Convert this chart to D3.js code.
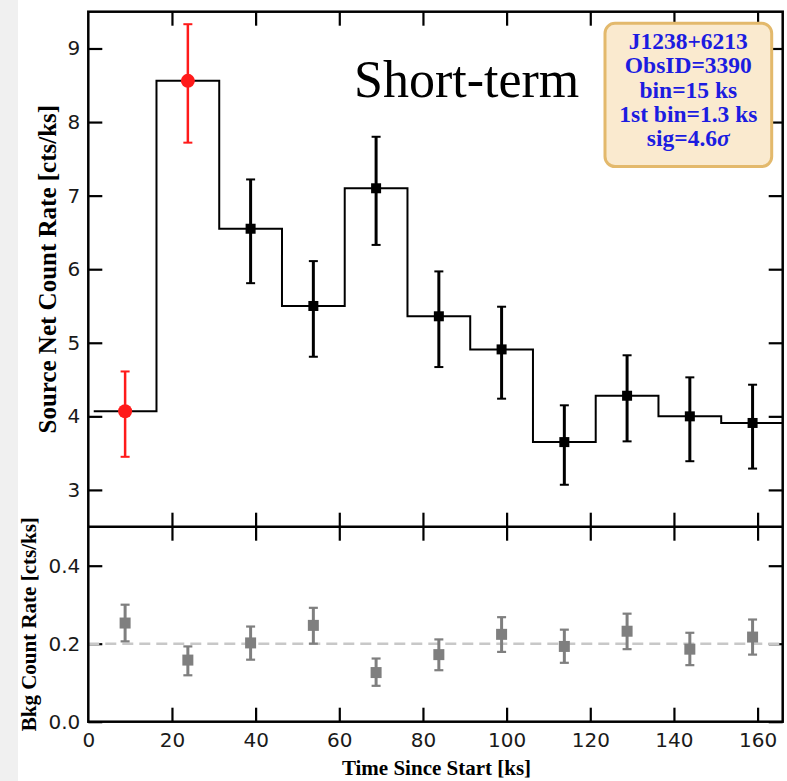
<!DOCTYPE html>
<html>
<head>
    <meta charset="utf-8" />
    <title>J1238+6213 light curve</title>
    <script src="https://cdn.jsdelivr.net/npm/d3@7"></script>
    <style>
        body { margin: 0; background: #fff; }
        svg { display: block; }
    </style>
</head>
<body>
    <script>

        // bins: 15 ks wide, first one starts at 1.3 ks
        let binEdges = [1.3, 16.3, 31.3, 46.3, 61.3, 76.3, 91.3, 106.3, 121.3, 136.3, 151.3, 166.3]
        let binCenters = [8.8, 23.8, 38.8, 53.8, 68.8, 83.8, 98.8, 113.8, 128.8, 143.8, 158.8]

        // source net count rate [cts/ks]
        let srcRate = [4.07, 8.56, 6.55, 5.50, 7.10, 5.36, 4.91, 3.65, 4.28, 4.00, 3.91]
        let srcHigh = [4.61, 9.33, 7.22, 6.11, 7.80, 5.97, 5.49, 4.15, 4.83, 4.53, 4.43]
        let srcLow  = [3.45, 7.72, 5.81, 4.81, 6.33, 4.67, 4.24, 3.07, 3.66, 3.39, 3.29]
        let flaredBins = [0, 1]

        // background count rate [cts/ks]
        let bkgRate = [0.253, 0.158, 0.202, 0.247, 0.126, 0.172, 0.224, 0.193, 0.232, 0.186, 0.217]
        let bkgHigh = [0.300, 0.193, 0.244, 0.292, 0.162, 0.211, 0.268, 0.236, 0.277, 0.228, 0.262]
        let bkgLow  = [0.206, 0.119, 0.159, 0.200, 0.092, 0.132, 0.179, 0.151, 0.186, 0.145, 0.172]
        let bkgMean = 0.2

        let xTicks = [0, 20, 40, 60, 80, 100, 120, 140, 160]
        let srcTicks = [3, 4, 5, 6, 7, 8, 9]
        let bkgTicks = [0.0, 0.2, 0.4]

        let infoLines = ['J1238+6213', 'ObsID=3390', 'bin=15 ks', '1st bin=1.3 ks']

        let W = 787, H = 781,
            left = 88.3, right = 782.7,
            topY = 11.7, midY = 526.7, botY = 721.7,
            tickLen = 14

        let svg = d3.select('body').append('svg')
            .attr('width', W)
            .attr('height', H)

        svg.append('rect')
            .attr('x', 0).attr('y', 0)
            .attr('width', 18).attr('height', H)
            .attr('fill', '#f0f0f0')

        let x = d3.scaleLinear().domain([0, 166]).range([left, right])
        let ySrc = d3.scaleLinear().domain([2.5, 9.5]).range([midY, topY])
        let yBkg = d3.scaleLinear().domain([0, 0.5]).range([botY, midY])

        svg.append('clipPath').attr('id', 'clipTop')
            .append('rect')
            .attr('x', left).attr('y', topY)
            .attr('width', right - left).attr('height', midY - topY)

        // ---- ticks ----
        function tickAxis(axis, transform, labels) {
            let g = svg.append('g')
                .attr('transform', transform)
                .call(axis.tickSizeInner(-tickLen).tickSizeOuter(0).tickPadding(8)
                    .tickFormat(labels ? labels : ''))
            g.select('.domain').remove()
            g.selectAll('line').attr('stroke', '#000').attr('stroke-width', 2.2)
            g.selectAll('text')
                .attr('fill', '#1a1a1a')
                .style('font-family', 'DejaVu Sans, sans-serif')
                .style('font-size', '20px')
            return g
        }

        let xInner = xTicks.filter(function (d) { return d > 0 })

        // top panel
        tickAxis(d3.axisLeft(ySrc).tickValues(srcTicks), `translate(${left},0)`, d3.format('d'))
        tickAxis(d3.axisRight(ySrc).tickValues(srcTicks), `translate(${right},0)`)
        tickAxis(d3.axisTop(x).tickValues(xInner), `translate(0,${topY})`)
        tickAxis(d3.axisBottom(x).tickValues(xInner), `translate(0,${midY})`)
            .selectAll('line').attr('y2', -tickLen)

        // bottom panel
        tickAxis(d3.axisLeft(yBkg).tickValues(bkgTicks), `translate(${left},0)`, d3.format('.1f'))
        tickAxis(d3.axisRight(yBkg).tickValues(bkgTicks), `translate(${right},0)`)
        tickAxis(d3.axisTop(x).tickValues(xInner), `translate(0,${midY})`)
            .selectAll('line').attr('y2', tickLen)
        let xb = tickAxis(d3.axisBottom(x).tickValues(xTicks), `translate(0,${botY})`, d3.format('d'))
        xb.selectAll('.tick').filter(function (d) { return d === 0 }).select('line').remove()
        xb.selectAll('text').attr('dy', '0.85em')

        // ---- top panel: step line and error bars ----
        let steps = binCenters.map(function (c, i) { return { t: binEdges[i], v: srcRate[i] } })
        steps.push({ t: binEdges[binEdges.length - 1], v: srcRate[srcRate.length - 1] })

        let stepLine = d3.line()
            .x(function (d) { return x(d.t) })
            .y(function (d) { return ySrc(d.v) })
            .curve(d3.curveStepAfter)

        svg.append('path')
            .datum(steps)
            .attr('clip-path', 'url(#clipTop)')
            .attr('d', stepLine)
            .attr('fill', 'none')
            .attr('stroke', '#000')
            .attr('stroke-width', 2)

        let src = binCenters.map(function (c, i) {
            return { t: c, v: srcRate[i], hi: srcHigh[i], lo: srcLow[i], flare: flaredBins.indexOf(i) >= 0 }
        })

        let srcG = svg.append('g').selectAll('g')
            .data(src)
            .enter().append('g')
            .attr('stroke', function (d) { return d.flare ? '#ff1a1a' : '#000' })
            .attr('fill', function (d) { return d.flare ? '#ff1a1a' : '#000' })

        srcG.append('line')
            .attr('x1', function (d) { return x(d.t) }).attr('x2', function (d) { return x(d.t) })
            .attr('y1', function (d) { return ySrc(d.lo) }).attr('y2', function (d) { return ySrc(d.hi) })
            .attr('stroke-width', function (d) { return d.flare ? 2.5 : 3 })
        srcG.selectAll('line.cap')
            .data(function (d) { return [{ t: d.t, v: d.lo }, { t: d.t, v: d.hi }] })
            .enter().append('line')
            .classed('cap', true)
            .attr('x1', function (d) { return x(d.t) - 4.5 }).attr('x2', function (d) { return x(d.t) + 4.5 })
            .attr('y1', function (d) { return ySrc(d.v) }).attr('y2', function (d) { return ySrc(d.v) })
            .attr('stroke-width', 2)

        srcG.filter(function (d) { return d.flare })
            .append('circle')
            .attr('cx', function (d) { return x(d.t) })
            .attr('cy', function (d) { return ySrc(d.v) })
            .attr('r', 7)
            .attr('stroke', 'none')
        srcG.filter(function (d) { return !d.flare })
            .append('rect')
            .attr('x', function (d) { return x(d.t) - 5 })
            .attr('y', function (d) { return ySrc(d.v) - 5 })
            .attr('width', 10).attr('height', 10)
            .attr('stroke', 'none')

        // ---- bottom panel: background ----
        svg.append('line')
            .attr('x1', left).attr('x2', right)
            .attr('y1', yBkg(bkgMean)).attr('y2', yBkg(bkgMean))
            .attr('stroke', '#c8c8c8')
            .attr('stroke-width', 2.5)
            .attr('stroke-dasharray', '11,6')

        let bkg = binCenters.map(function (c, i) {
            return { t: c, v: bkgRate[i], hi: bkgHigh[i], lo: bkgLow[i] }
        })

        let bkgG = svg.append('g').selectAll('g')
            .data(bkg)
            .enter().append('g')
            .attr('stroke', '#7f7f7f')
            .attr('fill', '#7f7f7f')

        bkgG.append('line')
            .attr('x1', function (d) { return x(d.t) }).attr('x2', function (d) { return x(d.t) })
            .attr('y1', function (d) { return yBkg(d.lo) }).attr('y2', function (d) { return yBkg(d.hi) })
            .attr('stroke-width', 3)
        bkgG.selectAll('line.cap')
            .data(function (d) { return [{ t: d.t, v: d.lo }, { t: d.t, v: d.hi }] })
            .enter().append('line')
            .classed('cap', true)
            .attr('x1', function (d) { return x(d.t) - 4.5 }).attr('x2', function (d) { return x(d.t) + 4.5 })
            .attr('y1', function (d) { return yBkg(d.v) }).attr('y2', function (d) { return yBkg(d.v) })
            .attr('stroke-width', 2.2)
        bkgG.append('rect')
            .attr('x', function (d) { return x(d.t) - 5.5 })
            .attr('y', function (d) { return yBkg(d.v) - 5.5 })
            .attr('width', 11).attr('height', 11)
            .attr('stroke', 'none')

        // ---- frames ----
        svg.append('rect')
            .attr('x', left).attr('y', topY)
            .attr('width', right - left).attr('height', botY - topY)
            .attr('fill', 'none')
            .attr('stroke', '#000')
            .attr('stroke-width', 2.5)
        svg.append('line')
            .attr('x1', left).attr('x2', right)
            .attr('y1', midY).attr('y2', midY)
            .attr('stroke', '#000')
            .attr('stroke-width', 2.5)

        // ---- labels ----
        let labelFont = 'Liberation Serif, Times New Roman, serif'

        svg.append('text')
            .attr('transform', `translate(56,${(topY + midY) / 2}) rotate(-90)`)
            .attr('text-anchor', 'middle')
            .style('font-family', labelFont)
            .style('font-weight', 'bold')
            .style('font-size', '25px')
            .text('Source Net Count Rate [cts/ks]')

        svg.append('text')
            .attr('transform', `translate(36,${(midY + botY) / 2}) rotate(-90)`)
            .attr('text-anchor', 'middle')
            .style('font-family', labelFont)
            .style('font-weight', 'bold')
            .style('font-size', '21px')
            .text('Bkg Count Rate [cts/ks]')

        svg.append('text')
            .attr('x', (left + right) / 2 + 1)
            .attr('y', 775)
            .attr('text-anchor', 'middle')
            .style('font-family', labelFont)
            .style('font-weight', 'bold')
            .style('font-size', '21px')
            .text('Time Since Start [ks]')

        svg.append('text')
            .attr('x', 354)
            .attr('y', 96.7)
            .style('font-family', labelFont)
            .style('font-size', '52px')
            .text('Short-term')

        // ---- info box ----
        let box = svg.append('g').attr('transform', 'translate(605,23.3)')
        box.append('rect')
            .attr('width', 166.7).attr('height', 143.3)
            .attr('rx', 10)
            .attr('fill', '#faeacf')
            .attr('stroke', '#e3b96c')
            .attr('stroke-width', 3)

        let info = box.append('text')
            .attr('text-anchor', 'middle')
            .attr('fill', '#1c1ce0')
            .style('font-family', labelFont)
            .style('font-weight', 'bold')
            .style('font-size', '23.5px')

        infoLines.forEach(function (s, i) {
            info.append('tspan')
                .attr('x', 83.3)
                .attr('y', 25.5 + i * 24.4)
                .text(s)
        })
        let sig = info.append('tspan')
            .attr('x', 83.3)
            .attr('y', 25.5 + infoLines.length * 24.4)
        sig.append('tspan').text('sig=4.6')
        sig.append('tspan').style('font-style', 'italic').text('σ')

    </script>
</body>
</html>
